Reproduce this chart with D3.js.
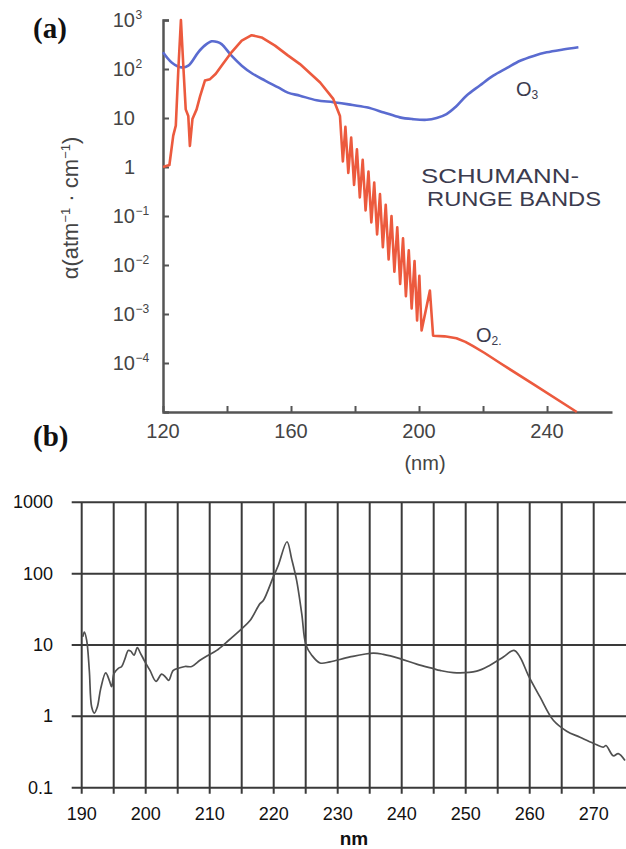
<!DOCTYPE html>
<html>
<head>
<meta charset="utf-8">
<script src="https://cdn.jsdelivr.net/npm/d3@7"></script>
<style>
  html, body { margin: 0; padding: 0; background: #fff; }
  svg { display: block; font-family: "Liberation Sans", Arial, sans-serif; }
</style>
</head>
<body>
<div id="chart"></div>
<script>
// ---- panel (a): absorption cross sections ----
const o3Wl  = [120, 122.7, 125.8, 127.9, 131, 133, 135.2, 137, 138.3, 141.4, 144.6, 148, 151.9, 156, 159, 162.8, 168, 173.2, 178, 183.6, 189, 194, 198, 202.4, 205.5, 208.6, 211.5, 214.8, 219, 223.2, 227.5, 231.6, 235.8, 239.9, 245, 249.8];
const o3Val = [219, 136, 108, 117, 219, 300, 367, 355, 322, 187, 117, 80, 58, 42, 33, 28.5, 23, 21, 19, 16.5, 13, 10.3, 9.5, 9.2, 10, 12, 17, 28.5, 46, 73, 105, 147, 185, 219, 250, 277];

const o2Wl  = [120, 122, 122.6, 123.2, 124, 124.8, 125.6, 126.4, 127.1, 127.9, 128.4, 129.2, 130.5, 131.6, 133.1, 134.7, 136.5, 138.3, 141.4, 144.6, 147.7, 150.8, 155, 159, 162.8, 169.1, 173.2,
               175.3, 176.2, 177.0, 177.9, 178.8, 179.7, 180.6, 181.5, 182.4, 183.3, 184.2, 185.1, 186.0, 186.9, 187.8, 188.7, 189.6, 190.5, 191.4, 192.3, 193.2, 194.1, 195.0, 195.9, 196.8, 197.7, 198.6, 199.4, 200.1, 200.8, 203.4, 204.4,
               208, 211.7, 214.5, 216.9, 220.5, 225.3, 235.7, 249.3];
const o2Val = [1.0, 1.1, 2.2, 4.36, 7, 100, 1000, 100, 15, 11, 2.7, 9.5, 15, 28, 58, 62, 80, 117, 219, 380, 490, 440, 300, 190, 126, 53, 24.5,
               11, 1.3, 6.6, 0.76, 4.0, 0.43, 2.3, 0.24, 1.4, 0.13, 0.81, 0.074, 0.48, 0.042, 0.28, 0.023, 0.17, 0.013, 0.10, 0.0073, 0.059, 0.0041, 0.035, 0.0023, 0.020, 0.0013, 0.012, 0.00074, 0.006, 0.00046, 0.003, 0.00036,
               0.00035, 0.00032, 0.00027, 0.00022, 0.00016, 0.0001, 0.000037, 0.00001];

const aTickVals   = [1e3, 1e2, 1e1, 1, 1e-1, 1e-2, 1e-3, 1e-4];
const aTickBase   = ["10", "10", "10", "1", "10", "10", "10", "10"];
const aTickSup    = ["3", "2", "", "", "-1", "-2", "-3", "-4"];
const aXTicks     = [120, 140, 160, 180, 200, 220, 240];
const aXLabels    = [120, 160, 200, 240];

// ---- panel (b): spectrum ----
const bWl  = [190.16, 190.41, 190.78, 191.19, 191.56, 191.97, 192.44, 192.97, 193.75, 194.31, 194.69, 195.05, 195.72, 196.25, 196.77, 197.28, 197.66, 198.17, 198.69, 199.11, 199.89, 200.67, 201.61, 202.5, 203.17, 203.59, 204.31, 205.36, 206.14, 207.19, 208.48, 209.78, 211.09, 212.66, 214.73, 216.3, 217.86, 218.38, 219.94, 220.72, 222.08, 222.81, 223.59, 224.38, 225.05, 225.94, 227.23, 228.8, 231.92, 235.56, 237.13, 239.73, 242.34, 244.94, 245.98, 248.06, 251.72, 253.8, 255.88, 257.55, 258.48, 259.78, 261.61, 263.69, 265.78, 267.86, 269.94, 271.5, 271.92, 273.06, 273.84, 274.89];
const bVal = [13, 15.2, 11.6, 4.4, 1.35, 1.11, 1.35, 2.45, 4.06, 3.2, 2.6, 4.0, 4.7, 5.0, 6.45, 8.4, 8.2, 7.2, 9.2, 7.9, 5.8, 4.4, 3.1, 3.9, 3.5, 3.2, 4.4, 4.8, 5.0, 5.0, 6.1, 7.2, 8.4, 11, 16, 22, 38, 42, 90, 131, 280, 160, 80, 27.5, 9.9, 7.2, 5.6, 5.8, 6.8, 7.7, 7.4, 6.45, 5.4, 4.66, 4.4, 4.1, 4.3, 5.2, 6.8, 8.4, 6.8, 3.76, 1.87, 0.88, 0.62, 0.51, 0.42, 0.37, 0.39, 0.28, 0.30, 0.24];

const bYTicks = [1000, 100, 10, 1, 0.1];
const bXGrid  = [190, 195, 200, 205, 210, 215, 220, 225, 230, 235, 240, 245, 250, 255, 260, 265, 270];
const bXLabels = [190, 200, 210, 220, 230, 240, 250, 260, 270];

const W = 626, H = 849;
const serif = "'Liberation Serif', 'Times New Roman', serif";
const svg = d3.select("#chart").append("svg")
    .attr("width", W)
    .attr("height", H);

// ================= panel (a) =================
const xA = d3.scaleLinear().domain([120, 260.3]).range([163, 612]);
const yA = d3.scaleLog().domain([1e-5, 1e3]).range([412, 20]);

const axisCol = "#555";

svg.append("text")
    .attr("x", 33).attr("y", 38)
    .style("font-family", serif)
    .attr("font-weight", "bold")
    .attr("font-size", "29px")
    .attr("fill", "#111")
    .text("(a)");

// y axis with inward ticks
const gYA = svg.append("g")
    .attr("transform", `translate(${xA(120)},0)`)
    .call(d3.axisRight(yA).tickValues(aTickVals).tickSizeInner(6).tickSizeOuter(6).tickFormat(""));
gYA.select(".domain").attr("stroke", axisCol).attr("stroke-width", 2.5);
gYA.selectAll(".tick line").attr("stroke", axisCol).attr("stroke-width", 2);

// x axis with inward ticks
const gXA = svg.append("g")
    .attr("transform", `translate(0,${yA(1e-5)})`)
    .call(d3.axisTop(xA).tickValues(aXTicks).tickSizeInner(6).tickSizeOuter(0).tickFormat(""));
gXA.select(".domain").attr("stroke", axisCol).attr("stroke-width", 2.5);
gXA.selectAll(".tick line").attr("stroke", axisCol).attr("stroke-width", 2);

// y tick labels with superscripts
aTickVals.forEach((v, i) => {
    svg.append("text")
        .attr("x", 135).attr("y", yA(v) + 7)
        .attr("text-anchor", "end")
        .attr("font-size", "20px")
        .attr("fill", "#444")
        .text(aTickBase[i]);
    if (aTickSup[i]) {
        svg.append("text")
            .attr("x", 135.5).attr("y", yA(v) - 1)
            .attr("font-size", "12px")
            .attr("fill", "#444")
            .text(aTickSup[i].replace("-", "\u2212"));
    }
});

// x tick labels
svg.selectAll(".xa-label")
    .data(aXLabels)
    .enter().append("text")
    .attr("class", "xa-label")
    .attr("x", d => xA(d))
    .attr("y", 438)
    .attr("text-anchor", "middle")
    .attr("font-size", "20px")
    .attr("fill", "#444")
    .text(d => d);

svg.append("text")
    .attr("x", 425).attr("y", 470)
    .attr("text-anchor", "middle")
    .attr("font-size", "20px")
    .attr("fill", "#444")
    .text("(nm)");

// rotated y label
const yLab = svg.append("text")
    .attr("transform", "translate(78,208) rotate(-90)")
    .attr("text-anchor", "middle")
    .attr("font-size", "22px")
    .attr("fill", "#444");
yLab.append("tspan").text("\u03b1(atm");
yLab.append("tspan").attr("dy", -8).attr("font-size", "13px").text("\u22121");
yLab.append("tspan").attr("dy", 8).text(" \u00b7 cm");
yLab.append("tspan").attr("dy", -8).attr("font-size", "13px").text("\u22121");
yLab.append("tspan").attr("dy", 8).text(")");

const lineA = d3.line()
    .x(d => xA(d[0]))
    .y(d => yA(d[1]));

svg.append("path")
    .datum(o3Wl.map((w, i) => [w, o3Val[i]]))
    .attr("d", lineA.curve(d3.curveCatmullRom.alpha(0.5)))
    .attr("fill", "none")
    .attr("stroke", "#5a6bd0")
    .attr("stroke-width", 2.6)
    .attr("stroke-linejoin", "round");

svg.append("path")
    .datum(o2Wl.map((w, i) => [w, o2Val[i]]))
    .attr("d", lineA.curve(d3.curveLinear))
    .attr("fill", "none")
    .attr("stroke", "#ec5a3e")
    .attr("stroke-width", 2.6)
    .attr("stroke-linejoin", "round");

// curve labels
const o3Lab = svg.append("text")
    .attr("x", 516).attr("y", 96)
    .attr("font-size", "20px")
    .attr("fill", "#3b3b4e");
o3Lab.append("tspan").text("O");
o3Lab.append("tspan").attr("dy", 3).attr("font-size", "12px").text("3");

const o2Lab = svg.append("text")
    .attr("x", 476).attr("y", 342)
    .attr("font-size", "20px")
    .attr("fill", "#3b3b4e");
o2Lab.append("tspan").text("O");
o2Lab.append("tspan").attr("dy", 3).attr("font-size", "12px").text("2.");

svg.append("text")
    .attr("x", 421).attr("y", 183)
    .attr("font-size", "20px")
    .attr("textLength", 158)
    .attr("lengthAdjust", "spacingAndGlyphs")
    .attr("fill", "#3b3b4e")
    .text("SCHUMANN-");
svg.append("text")
    .attr("x", 427).attr("y", 206)
    .attr("font-size", "20px")
    .attr("textLength", 174)
    .attr("lengthAdjust", "spacingAndGlyphs")
    .attr("fill", "#3b3b4e")
    .text("RUNGE BANDS");

// ================= panel (b) =================
const xB = d3.scaleLinear().domain([190, 275]).range([81.7, 625.7]);
const yB = d3.scaleLog().domain([0.1, 1000]).range([787.7, 502.3]);
const gridCol = "#3a3a3a";

svg.append("text")
    .attr("x", 33).attr("y", 446)
    .style("font-family", serif)
    .attr("font-weight", "bold")
    .attr("font-size", "29px")
    .attr("fill", "#111")
    .text("(b)");

// vertical grid lines (extend a little below the 0.1 line)
svg.append("g")
    .selectAll("line")
    .data(bXGrid)
    .enter().append("line")
    .attr("x1", d => xB(d)).attr("x2", d => xB(d))
    .attr("y1", yB(1000)).attr("y2", yB(0.1) + 6)
    .attr("stroke", gridCol)
    .attr("stroke-width", 2);

// horizontal grid lines (extend a little left of 190)
svg.append("g")
    .selectAll("line")
    .data(bYTicks)
    .enter().append("line")
    .attr("x1", xB(190) - 10).attr("x2", W)
    .attr("y1", d => yB(d)).attr("y2", d => yB(d))
    .attr("stroke", gridCol)
    .attr("stroke-width", 2);

svg.selectAll(".yb-label")
    .data(bYTicks)
    .enter().append("text")
    .attr("class", "yb-label")
    .attr("x", 53)
    .attr("y", d => yB(d) + 6)
    .attr("text-anchor", "end")
    .attr("font-size", "18px")
    .attr("fill", "#111")
    .text(d => d);

svg.selectAll(".xb-label")
    .data(bXLabels)
    .enter().append("text")
    .attr("class", "xb-label")
    .attr("x", d => xB(d))
    .attr("y", 820)
    .attr("text-anchor", "middle")
    .attr("font-size", "18px")
    .attr("fill", "#111")
    .text(d => d);

svg.append("text")
    .attr("x", 354).attr("y", 845)
    .attr("text-anchor", "middle")
    .attr("font-size", "19px")
    .attr("font-weight", "bold")
    .attr("fill", "#111")
    .text("nm");

const lineB = d3.line()
    .x(d => xB(d[0]))
    .y(d => yB(d[1]))
    .curve(d3.curveCatmullRom.alpha(0.5));

svg.append("path")
    .datum(bWl.map((w, i) => [w, bVal[i]]))
    .attr("d", lineB)
    .attr("fill", "none")
    .attr("stroke", "#505050")
    .attr("stroke-width", 1.7);
</script>
</body>
</html>
